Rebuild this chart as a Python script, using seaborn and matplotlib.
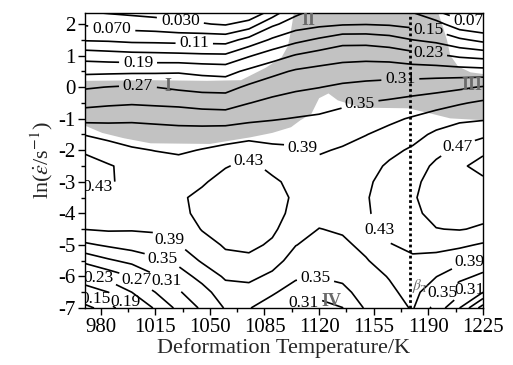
import numpy as np
import pandas as pd
import seaborn as sns
import matplotlib
matplotlib.use("Agg")
import matplotlib.pyplot as plt

# ---------------- data ----------------
temperatures = [970, 985, 1000, 1015, 1030, 1045, 1060, 1075, 1090,
                1105, 1120, 1135, 1150, 1165, 1180, 1195, 1210, 1225]
ln_rates = [-7.0, -6.5, -6.0, -5.5, -5.0, -4.5, -4.0, -3.5, -3.0, -2.5,
            -2.0, -1.5, -1.0, -0.5, 0.0, 0.5, 1.0, 1.5, 2.0, 2.5]

# power-dissipation efficiency, one column per temperature (bottom -> top)
eta_970 = [0.095, 0.161, 0.224, 0.280, 0.343, 0.391, 0.413, 0.425, 0.435, 0.442,
           0.426, 0.388, 0.337, 0.298, 0.266, 0.221, 0.173, 0.106, 0.066, 0.021]
eta_985 = [0.134, 0.190, 0.246, 0.304, 0.356, 0.395, 0.410, 0.420, 0.433, 0.433,
           0.411, 0.376, 0.340, 0.303, 0.271, 0.222, 0.168, 0.104, 0.057, 0.016]
eta_1000 = [0.185, 0.230, 0.271, 0.321, 0.366, 0.393, 0.405, 0.415, 0.422, 0.420,
            0.395, 0.371, 0.343, 0.306, 0.275, 0.223, 0.164, 0.099, 0.050, 0.013]
eta_1015 = [0.235, 0.270, 0.306, 0.341, 0.373, 0.395, 0.405, 0.414, 0.416, 0.408,
            0.389, 0.367, 0.341, 0.303, 0.270, 0.224, 0.162, 0.098, 0.046, 0.008]
eta_1030 = [0.280, 0.306, 0.333, 0.360, 0.389, 0.405, 0.420, 0.425, 0.418, 0.405,
            0.384, 0.364, 0.339, 0.300, 0.263, 0.226, 0.160, 0.096, 0.038, 0.000]
eta_1045 = [0.316, 0.336, 0.362, 0.395, 0.415, 0.432, 0.440, 0.438, 0.426, 0.410,
            0.392, 0.367, 0.335, 0.294, 0.258, 0.220, 0.157, 0.096, 0.0325, 0.000]
eta_1060 = [0.353, 0.371, 0.396, 0.420, 0.434, 0.442, 0.448, 0.448, 0.442, 0.428,
            0.401, 0.371, 0.333, 0.292, 0.257, 0.216, 0.156, 0.094, 0.026, -0.010]
eta_1075 = [0.352, 0.376, 0.399, 0.422, 0.438, 0.447, 0.452, 0.452, 0.447, 0.438,
            0.414, 0.374, 0.342, 0.309, 0.277, 0.239, 0.186, 0.123, 0.046, -0.020]
eta_1090 = [0.330, 0.355, 0.382, 0.405, 0.425, 0.436, 0.440, 0.442, 0.436, 0.421,
            0.400, 0.375, 0.347, 0.321, 0.292, 0.259, 0.211, 0.156, 0.102, 0.026]
eta_1105 = [0.303, 0.332, 0.356, 0.374, 0.391, 0.410, 0.422, 0.425, 0.420, 0.410,
            0.396, 0.376, 0.352, 0.328, 0.303, 0.275, 0.233, 0.179, 0.130, 0.090]
eta_1120 = [0.295, 0.323, 0.352, 0.365, 0.377, 0.389, 0.405, 0.414, 0.412, 0.400,
            0.386, 0.371, 0.356, 0.335, 0.309, 0.282, 0.247, 0.196, 0.140, 0.115]
eta_1135 = [0.309, 0.340, 0.358, 0.370, 0.382, 0.395, 0.408, 0.415, 0.413, 0.405,
            0.394, 0.378, 0.363, 0.344, 0.317, 0.288, 0.256, 0.215, 0.146, 0.120]
eta_1150 = [0.355, 0.366, 0.376, 0.387, 0.400, 0.415, 0.424, 0.426, 0.422, 0.415,
            0.405, 0.389, 0.370, 0.351, 0.322, 0.291, 0.258, 0.215, 0.148, 0.125]
eta_1165 = [0.375, 0.383, 0.392, 0.410, 0.428, 0.442, 0.452, 0.455, 0.448, 0.436,
            0.420, 0.402, 0.382, 0.357, 0.326, 0.292, 0.255, 0.207, 0.145, 0.120]
eta_1180 = [0.393, 0.402, 0.412, 0.424, 0.438, 0.452, 0.463, 0.466, 0.460, 0.450,
            0.436, 0.416, 0.394, 0.365, 0.331, 0.290, 0.245, 0.190, 0.137, 0.100]
eta_1195 = [0.335, 0.364, 0.391, 0.416, 0.443, 0.469, 0.480, 0.488, 0.488, 0.478,
            0.459, 0.438, 0.409, 0.374, 0.336, 0.290, 0.237, 0.179, 0.125, 0.060]
eta_1210 = [0.270, 0.320, 0.364, 0.400, 0.438, 0.472, 0.483, 0.492, 0.500, 0.503,
            0.478, 0.452, 0.422, 0.386, 0.343, 0.288, 0.223, 0.157, 0.084, 0.040]
eta_1225 = [0.170, 0.270, 0.339, 0.382, 0.425, 0.465, 0.480, 0.491, 0.502, 0.524,
            0.502, 0.461, 0.426, 0.397, 0.353, 0.285, 0.216, 0.139, 0.072, 0.020]

eta_columns = [eta_970, eta_985, eta_1000, eta_1015, eta_1030, eta_1045,
               eta_1060, eta_1075, eta_1090, eta_1105, eta_1120, eta_1135,
               eta_1150, eta_1165, eta_1180, eta_1195, eta_1210, eta_1225]

contour_levels = [0.03, 0.07, 0.11, 0.15, 0.19, 0.23, 0.27, 0.31,
                  0.35, 0.39, 0.43, 0.47, 0.51]

# instability (grey) domain outline
instab_T = [969, 1012, 1048, 1070, 1086, 1096, 1100, 1102, 1104, 1104,
            1196, 1196, 1199, 1202, 1204, 1209, 1217, 1226, 1226,
            1204, 1191, 1177, 1147, 1132, 1126, 1120, 1115, 1108, 1102,
            1090, 1076, 1050, 1012, 995, 981, 969]
instab_ln = [0.20, 0.22, 0.20, 0.22, 0.62, 0.95, 1.30, 1.80, 2.40, 2.50,
             2.50, 2.40, 1.96, 1.48, 1.01, 0.66, 0.47, 0.41, -1.05,
             -0.99, -0.83, -0.67, -0.65, -0.42, -0.20, -0.35, -0.85, -1.05, -1.27,
             -1.45, -1.59, -1.80, -1.78, -1.62, -1.45, -1.20]

beta_transus = 1178.5

region_names = ["I", "II", "III", "IV"]
region_T = [1023, 1113, 1218, 1128]
region_ln = [0.02, 2.10, 0.04, -6.78]

# ---------------- figure ----------------
sns.set_theme(style="ticks")
plt.rcParams.update({
    "font.family": ["Liberation Serif", "DejaVu Serif"],
    "mathtext.fontset": "stix",
    "axes.unicode_minus": False,
    "axes.edgecolor": "black",
    "axes.linewidth": 1.0,
    "xtick.color": "black",
    "ytick.color": "black",
})

eta = pd.DataFrame(np.array(eta_columns).T, index=ln_rates, columns=temperatures)
TT, LL = np.meshgrid(eta.columns.values, eta.index.values)

fig = plt.figure(figsize=(5.13, 3.65), dpi=100)
ax = fig.add_axes([85 / 513, 1 - 308 / 365, (483 - 85) / 513, (308 - 13) / 365])

ax.fill(instab_T, instab_ln, color="#c2c2c2", lw=0, zorder=1)

cs = ax.contour(TT, LL, eta.values, levels=contour_levels, colors="black",
                linewidths=1.2, zorder=2)

label_positions = [(1031, 2.08), (987, 1.8), (1040, 1.39), (1004, 0.79),
                   (1004, 0.09), (1190, 1.8), (1190, 1.1), (1172, 0.28),
                   (1146, -0.51), (1218, 2.02), (1110, -1.84), (1075, -2.3),
                   (978, -3.2), (1208, -1.85), (1160, -4.47), (1025, -4.78),
                   (1020, -5.42), (1022, -6.15), (1004, -6.05), (979, -5.99),
                   (996, -6.8), (978, -6.59), (1118, -6.1), (1110, -6.8),
                   (1216, -5.52), (1202, -6.65), (1216, -6.4)]


def fmt(v):
    return f"{v:.3f}" if v < 0.1 else f"{v:.2f}"


texts = ax.clabel(cs, levels=contour_levels[:-1], manual=label_positions,
                  inline=True, inline_spacing=2, fmt=fmt, fontsize=12.5)
for t in texts:
    t.set_rotation(0)
    t.set_clip_on(True)

ax.axvline(beta_transus, color="black", ls=(0, (1, 1)), lw=2.0, zorder=3)
ax.text(1179.5, -6.3, r"$\beta_{\mathrm{T}}$", color="#6a6a6a", fontsize=11,
        ha="left", va="center", zorder=4)

for name, tx, ly in zip(region_names, region_T, region_ln):
    ax.text(tx, ly, name, color="#6a6a6a", fontsize=13, fontweight="bold",
            ha="center", va="center", zorder=4, clip_on=True)

ax.set_xlim(970, 1225)
ax.set_ylim(-7, 2.35)
ax.set_xticks(np.arange(980, 1226, 35))
ax.set_xticks(np.arange(997.5, 1225, 35), minor=True)
ax.set_yticks(np.arange(-7, 2.1, 1))
ax.set_yticks(np.arange(-6.5, 2.4, 1), minor=True)
ax.tick_params(which="major", direction="out", length=5, width=1, labelsize=15, pad=2)
ax.tick_params(which="minor", direction="out", length=3, width=1)

ax.set_xlabel("Deformation Temperature/K", fontsize=16, labelpad=1)
ax.set_ylabel(r"ln($\dot{\varepsilon}$/s$^{-1}$)", fontsize=16, labelpad=2)
for s in ax.spines.values():
    s.set_visible(True)
    s.set_color("black")

fig.savefig("out.png", dpi=100)
